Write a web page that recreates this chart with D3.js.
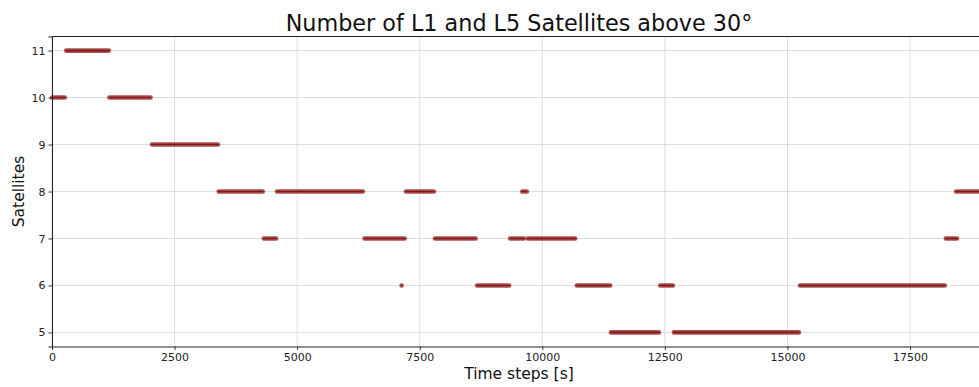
<!DOCTYPE html>
<html>
<head>
<meta charset="utf-8">
<script src="https://cdn.jsdelivr.net/npm/d3@7"></script>
<style>
  body { margin: 0; background: #fff; }
  svg { display: block; font-family: "DejaVu Sans", sans-serif; }
</style>
</head>
<body>
<svg id="chart" width="979" height="387"></svg>
<script>
// Visible-satellite count runs: start time [s], end time [s], satellite count
const runStart = [0, 290, 1170, 2040, 3400, 4320, 4590, 6375, 7131, 7220, 7810, 8670, 9345, 9590, 9705, 10705, 11400, 12405, 12685, 15255, 18230, 18440];
const runEnd   = [260, 1160, 2010, 3385, 4300, 4570, 6340, 7195, 7131, 7790, 8640, 9325, 9625, 9685, 10670, 11385, 12380, 12665, 15235, 18210, 18460, 19200];
const runCount = [10, 11, 10, 9, 8, 7, 8, 7, 6, 8, 7, 6, 7, 8, 7, 6, 5, 6, 5, 6, 7, 8];

const xTicks = [0, 2500, 5000, 7500, 10000, 12500, 15000, 17500];
const yTicks = [5, 6, 7, 8, 9, 10, 11];

const svg = d3.select("#chart");
const plotL = 52, plotR = 986, plotT = 36.5, plotB = 346.5;

const x = d3.scaleLinear().domain([0, 19050]).range([plotL, plotR]);
const y = d3.scaleLinear().domain([4.7, 11.3]).range([plotB, plotT]);

// grid
const grid = svg.append("g");
grid.selectAll(".gx").data(xTicks).join("line")
  .attr("x1", d => x(d)).attr("x2", d => x(d))
  .attr("y1", plotT).attr("y2", plotB)
  .attr("stroke", "#d9d9d9").attr("stroke-width", 0.9);
grid.selectAll(".gy").data(yTicks).join("line")
  .attr("x1", plotL).attr("x2", plotR)
  .attr("y1", d => y(d)).attr("y2", d => y(d))
  .attr("stroke", "#d9d9d9").attr("stroke-width", 0.9);

// runs
const runs = runStart.map((s, i) => ({ s, e: runEnd[i], c: runCount[i] }));
const marks = svg.append("g");
marks.selectAll(".outer").data(runs).join("line")
  .attr("x1", d => x(d.s)).attr("x2", d => x(d.e))
  .attr("y1", d => y(d.c)).attr("y2", d => y(d.c))
  .attr("stroke", "#a33333").attr("stroke-opacity", 0.85)
  .attr("stroke-width", 4.6).attr("stroke-linecap", "round");
marks.selectAll(".inner").data(runs).join("line")
  .attr("x1", d => x(d.s)).attr("x2", d => x(d.e))
  .attr("y1", d => y(d.c)).attr("y2", d => y(d.c))
  .attr("stroke", "#7c1a1a")
  .attr("stroke-width", 1.6).attr("stroke-linecap", "round");

// axes
const xAxis = svg.append("g").attr("transform", `translate(0,${plotB})`)
  .call(d3.axisBottom(x).tickValues(xTicks).tickFormat(d3.format("d")).tickSizeOuter(0).tickSize(3.5).tickPadding(3));
const yAxis = svg.append("g").attr("transform", `translate(${plotL},0)`)
  .call(d3.axisLeft(y).tickValues(yTicks).tickFormat(d3.format("d")).tickSizeOuter(0).tickSize(3.5).tickPadding(3));
[xAxis, yAxis].forEach(a => {
  a.select(".domain").attr("stroke", "#222").attr("stroke-width", 1);
  a.selectAll(".tick line").attr("stroke", "#222").attr("stroke-width", 0.9);
  a.selectAll(".tick text").attr("fill", "#222").attr("font-size", 11).attr("font-family", "DejaVu Sans");
});
// frame
svg.append("line").attr("x1", plotL).attr("x2", plotR).attr("y1", plotT).attr("y2", plotT)
  .attr("stroke", "#222").attr("stroke-width", 1);
svg.append("line").attr("x1", plotR).attr("x2", plotR).attr("y1", plotT).attr("y2", plotB)
  .attr("stroke", "#222").attr("stroke-width", 1);

// titles
svg.append("text").attr("x", (plotL + plotR) / 2).attr("y", 31)
  .attr("text-anchor", "middle").attr("font-size", 22.3).attr("fill", "#111")
  .text("Number of L1 and L5 Satellites above 30°");
svg.append("text").attr("x", (plotL + plotR) / 2).attr("y", 379)
  .attr("text-anchor", "middle").attr("font-size", 15.5).attr("fill", "#111")
  .text("Time steps [s]");
svg.append("text").attr("transform", `translate(24,${(plotT + plotB) / 2}) rotate(-90)`)
  .attr("text-anchor", "middle").attr("font-size", 15.5).attr("fill", "#111")
  .text("Satellites");
</script>
</body>
</html>
